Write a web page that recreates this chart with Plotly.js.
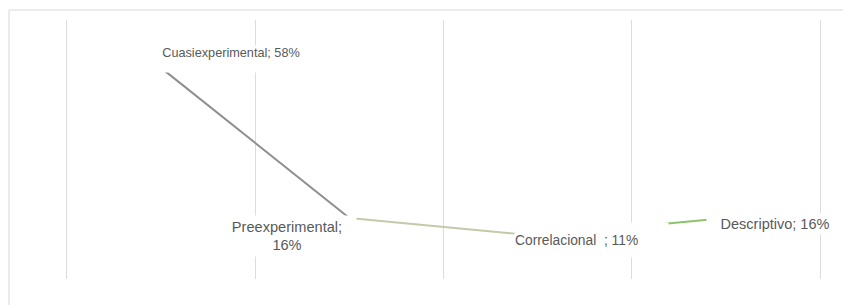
<!DOCTYPE html>
<html><head><meta charset="utf-8">
<script src="https://cdn.plot.ly/plotly-3.0.1.min.js"></script>
<style>html,body{margin:0;padding:0;background:#fff;}#chart{width:843px;height:305px;}</style>
</head><body><div id="chart"></div>
<script>
const categories = ["Cuasiexperimental", "Preexperimental", "Correlacional ", "Descriptivo"];
const values = [58, 16, 11, 16];
const labelTexts = ["Cuasiexperimental; 58%", "Preexperimental;<br>16%", "Correlacional  ; 11%", "Descriptivo; 16%"];
const segColors = ["#8e8e8e", "#c4c9a8", "#8cc46a"];

const xs = categories.map((c, i) => i);
const traces = [];
for (let i = 0; i < values.length - 1; i++) {
  traces.push({
    x: [xs[i], xs[i + 1]], y: [values[i], values[i + 1]],
    type: "scatter", mode: "lines", hoverinfo: "skip",
    line: {color: segColors[i], width: 2}, showlegend: false
  });
}

const boxes = [
  {xshift: 70, yshift: 9, width: 146, height: 26, align: "center", valign: "top", size: 12.7},
  {xshift: -62, yshift: -18, width: 138, height: 40, align: "center", valign: "middle", size: 14.6},
  {xshift: 54, yshift: -4, width: 153, height: 34, align: "left", valign: "middle", size: 13.8},
  {xshift: 49, yshift: -6, width: 136, height: 20, align: "center", valign: "middle", size: 14.5}
];
const annotations = values.map((v, i) => ({
  x: xs[i], y: v, xref: "x", yref: "y", text: labelTexts[i], showarrow: false,
  xanchor: "center", yanchor: "middle", bgcolor: "#ffffff", borderpad: 0,
  xshift: boxes[i].xshift, yshift: boxes[i].yshift, width: boxes[i].width, height: boxes[i].height,
  align: boxes[i].align, valign: boxes[i].valign,
  font: {family: "Liberation Sans, Arial, sans-serif", size: boxes[i].size, color: "#595959"}
}));

const layout = {
  width: 843, height: 305,
  margin: {l: 65, r: 21, t: 20, b: 26, pad: 0},
  paper_bgcolor: "#ffffff", plot_bgcolor: "#ffffff",
  showlegend: false,
  xaxis: {range: [-0.51, 3.51], tickvals: [-0.5, 0.5, 1.5, 2.5, 3.5], showticklabels: false,
          showgrid: true, gridcolor: "#dcdcdc", gridwidth: 1, zeroline: false, showline: false, ticks: ""},
  yaxis: {range: [-1.1, 71.4], showgrid: false, showticklabels: false, zeroline: false, showline: false, ticks: ""},
  annotations: annotations,
  shapes: [
    {type: "line", xref: "paper", yref: "paper", x0: -0.074, x1: 1.1, y0: 1.0386, y1: 1.0386, line: {color: "#d9d9d9", width: 1}},
    {type: "line", xref: "paper", yref: "paper", x0: -0.074, x1: -0.074, y0: 1.0386, y1: -0.2, line: {color: "#d9d9d9", width: 1}}
  ]
};
Plotly.newPlot("chart", traces, layout, {staticPlot: true, displayModeBar: false});
</script></body></html>
